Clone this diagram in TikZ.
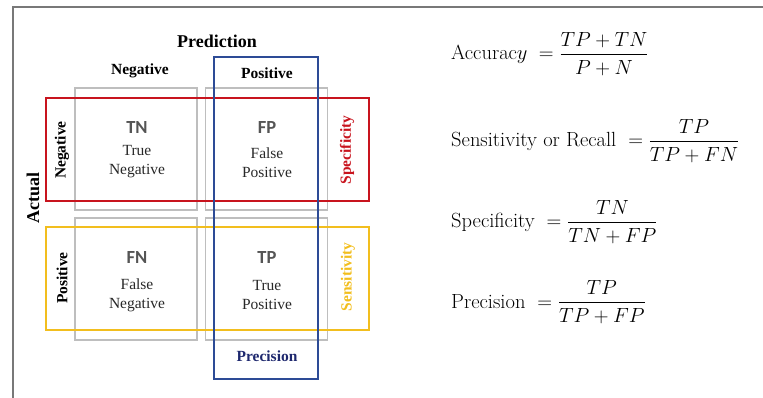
\RequirePackage{fix-cm}
\documentclass[tikz,border=0pt]{standalone}
\usepackage{amsmath}
\usepackage{fontspec}
\newfontfamily\timesf{Liberation Serif}
\newfontfamily\calib{Carlito}
\definecolor{framegray}{RGB}{120,120,120}
\definecolor{cellgray}{RGB}{190,190,190}
\definecolor{myred}{RGB}{200,20,30}
\definecolor{myblue}{RGB}{45,75,150}
\definecolor{precblue}{RGB}{30,40,110}
\definecolor{myyellow}{RGB}{242,190,30}
\definecolor{txtgray}{RGB}{40,40,40}
\definecolor{abbrgray}{RGB}{85,85,85}
\tikzset{
  cell/.style={draw=cellgray, line width=1.1pt, minimum width=122pt, minimum height=122pt, inner sep=0pt},
  band/.style={draw=#1, line width=2pt, inner sep=0pt, fill=none},
  head/.style={font=\timesf\bfseries\fontsize{15.5}{18}\selectfont, text=black, inner sep=0pt},
  big/.style={font=\timesf\bfseries\fontsize{18}{21}\selectfont, text=black, inner sep=0pt},
  abbr/.style={font=\calib\bfseries\fontsize{18.5}{21}\selectfont, text=abbrgray, inner sep=0pt},
  desc/.style={font=\timesf\fontsize{15.5}{18}\selectfont, text=txtgray, align=center, inner sep=0pt},
  formula/.style={font=\fontsize{20.5}{24}\selectfont, anchor=base west, inner sep=0pt, text=black}
}
\begin{document}
\begin{tikzpicture}[x=1pt,y=-1pt]
\useasboundingbox (0,0) rectangle (763,398);
\draw[framegray, line width=1.5pt] (13,398) -- (13,7) -- (763,7);
% cells
\node[cell] (ctn) at (136,149) {};
\node[cell] (cfp) at (266.5,149) {};
\node[cell] (cfn) at (136,279) {};
\node[cell] (ctp) at (266.5,279) {};
% bands
\node[band=myred, minimum width=323pt, minimum height=103pt] (redband) at (207.5,149.5) {};
\node[band=myyellow, minimum width=323pt, minimum height=103pt] (yelband) at (207.5,278.5) {};
\node[band=myblue, minimum width=104pt, minimum height=322pt] (blueband) at (266,218) {};
% headers
\node[big] (pred) at (217,41) {Prediction};
\node[head] (hneg) at (140,71) {Negative};
\node[head] (hpos) at (267,73) {Positive};
\node[big, rotate=90] (actual) at (33,198) {Actual};
\node[head, rotate=90] (vneg) at (62,150) {Negative};
\node[head, rotate=90] (vpos) at (62,278) {Positive};
\node[head, rotate=90, text=myred] (spec) at (347,150) {Specificity};
\node[head, rotate=90, text=myyellow] (sens) at (348,277) {Sensitivity};
\node[head, text=precblue] (prec) at (267,356) {Precision};
% cell texts
\node[abbr] (tn) at (137,128) {TN};
\node[desc] (tnd) at (137,162) {True\\[1pt]Negative};
\node[abbr] (fp) at (267,128) {FP};
\node[desc] (fpd) at (267,163) {False\\[1pt]Positive};
\node[abbr] (fn) at (137,258) {FN};
\node[desc] (fnd) at (137,295) {False\\[1pt]Negative};
\node[abbr] (tp) at (267,258) {TP};
\node[desc] (tpd) at (267,295) {True\\[1pt]Positive};
% formulas
\node[formula] (acc) at (451,60) {Accurac$y\;=\dfrac{TP+TN}{P+N}$};
\node[formula] (sen) at (451,147) {Sensitivity or Recall\ $\;=\dfrac{TP}{TP+FN}$};
\node[formula] (spf) at (451,228) {Specificity\ $\;=\dfrac{TN}{TN+FP}$};
\node[formula] (pre) at (451,308) {Precision\ $\;=\dfrac{TP}{TP+FP}$};
\end{tikzpicture}
\end{document}
